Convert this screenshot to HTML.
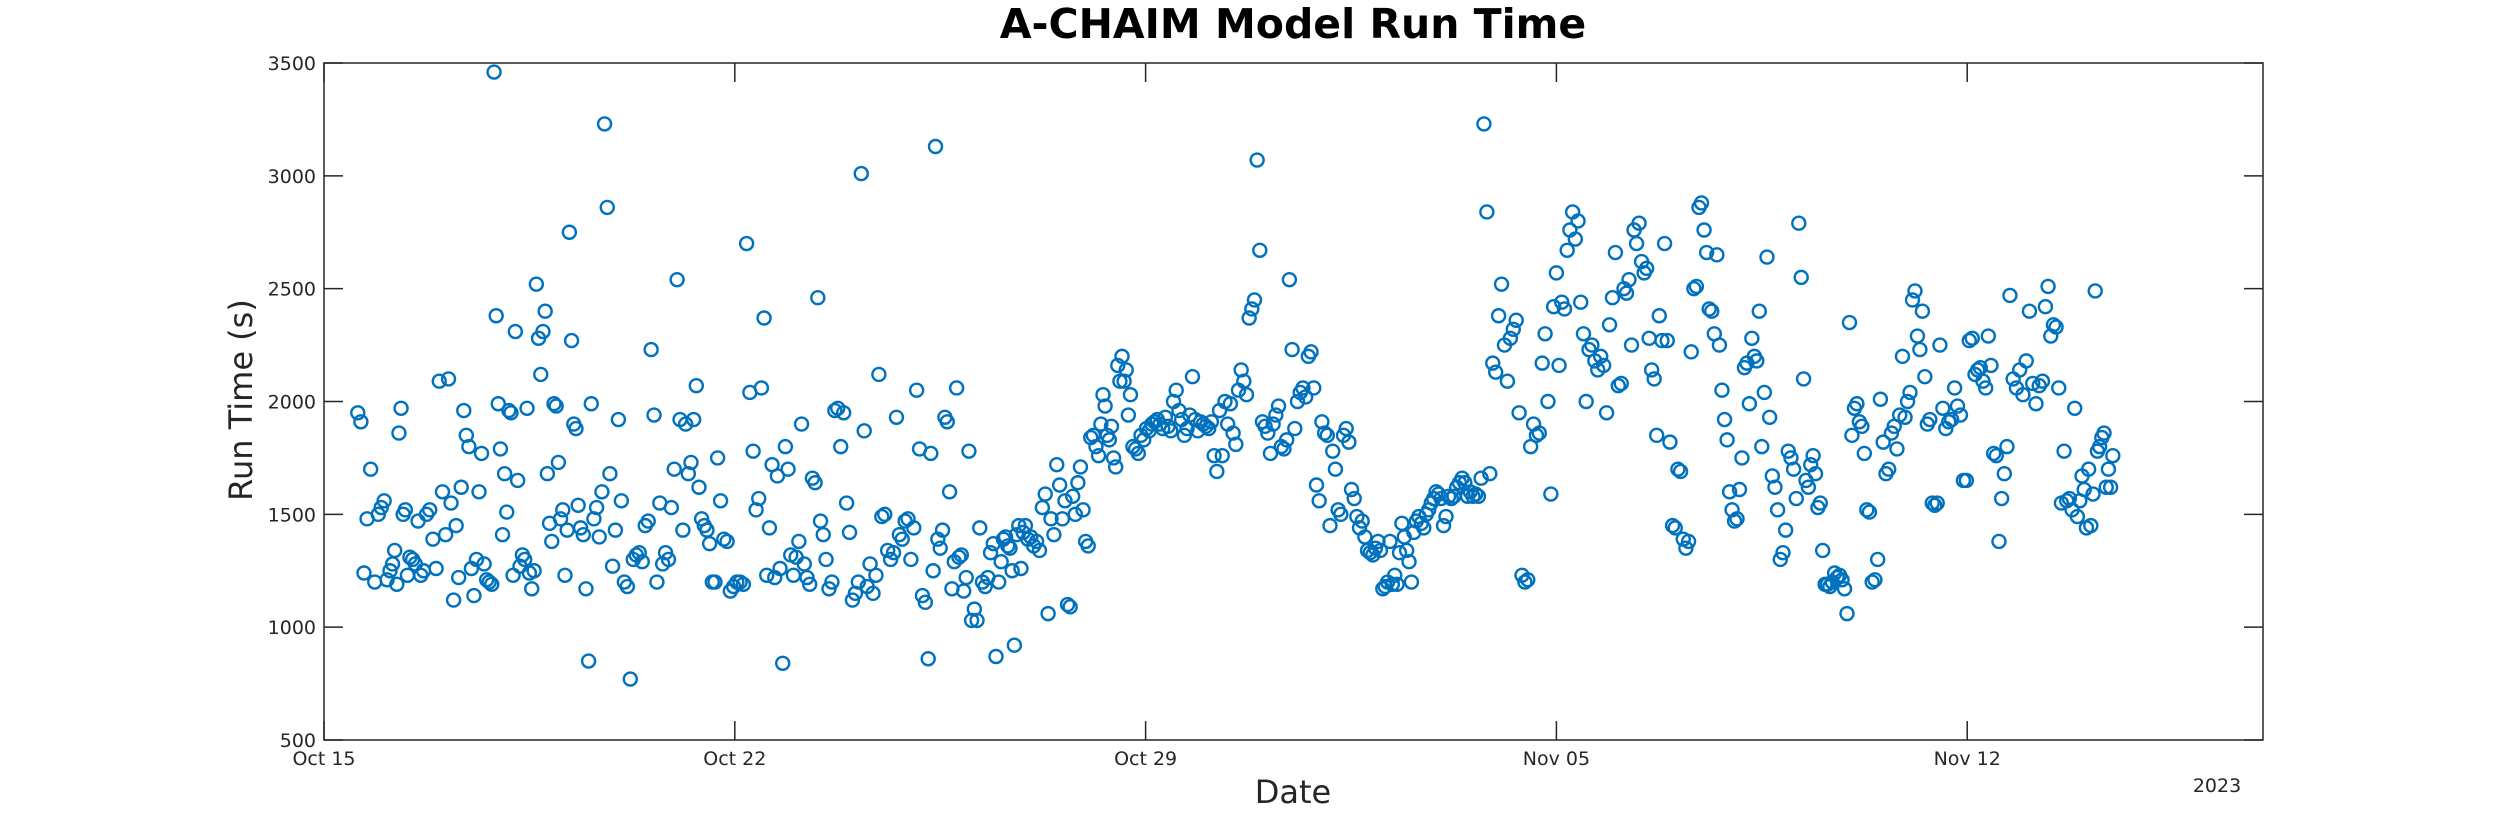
<!DOCTYPE html>
<html><head><meta charset="utf-8"><style>
html,body{margin:0;padding:0;background:#fff;}
svg{display:block;font-family:"DejaVu Sans","Liberation Sans",sans-serif;}
</style></head><body>
<svg id="chart" width="2500" height="833" viewBox="0 0 2500 833" xmlns="http://www.w3.org/2000/svg">
<rect width="2500" height="833" fill="#fff"/>
<text x="1293" y="38" text-anchor="middle" font-size="41" font-weight="bold" fill="#000">A-CHAIM Model Run Time</text>
<g id="marks"></g>
<g id="axes"></g>
<text x="1293" y="803" text-anchor="middle" font-size="32" fill="#262626">Date</text>
<text transform="translate(252,400) rotate(-90)" text-anchor="middle" font-size="32" fill="#262626">Run Time (s)</text>
<text x="2217" y="792" text-anchor="middle" font-size="19" fill="#262626">2023</text>
</svg>
<script>
const groupDays=[0.55,0.76,0.90,1.15,1.44,1.72,2.10,2.49,2.88,3.24,3.60,3.90,4.35,4.94,5.55,6.14,6.73,7.34,7.93,8.53,9.13,9.73,10.32,10.92,11.52,11.97,12.56,13.22,13.76,14.36,14.96,15.56,16.15,16.75,17.35,17.94,18.55,19.14,19.74,20.34,20.93,21.53,22.13,22.73,23.32,23.93,24.52,25.11,25.72,26.31,26.92,27.51,28.11,28.70,29.31,29.90];
const groupValues=[
[1950,1910,1240,1480],[1700,1200],[1500,1530,1560,1210,1250],
[1280,1340,1190,1860,1970,1500,1520,1230],[1310,1300,1280,1470,1230,1250],
[1500,1520,1390,1260,2090,1600,1410],[2100,1550,1120,1450,1220,1620,1960,1850,1800],
[1260,1140,1300,1600,1770,1280,1210,1200,1190],[3460,2380,1990,1790,1410,1680,1510,1960,1950,1230],
[2310,1650,1270,1320,1300,1970,1240,1170,1250],[2520,2280,2120,2310,2400,1680,1460,1380],
[1990,1980,1730,1480,1520,1230,1430,2750,2270,1900,1880,1540],
[1440,1410,1170,850,1990,1480,1530,1400,1600,3230,2860,1680,1270],
[1430,1920,1560,1200,1180,770,1300,1320,1330,1290,1450,1470],
[2230,1940,1200,1550,1280,1330,1300,1530,1700,2540,1920,1430],
[1900,1680,1730,1920,2070,1620,1480,1450,1430,1370,1200,1200,1750],
[1560,1390,1380,1160,1180,1200,1200,1190,2700,2040,1780],
[1520,1570,2060,2370,1230,1440,1720,1220,1670,1260,840,1800,1700],
[1320,1230,1310,1380,1900,1280,1220,1190,1660,1640,2460,1470,1410],
[1300,1170,1200,1960,1970,1800,1950,1550,1420,1120,1150,1200],
[3010,1870,1180,1280,1150,1230,2120,1490,1500,1340,1300,1330],
[1930,1410,1390,1470,1480,1300,1440,2050,1790,1140,1110,860],
[1770,1250,3130,1390,1350,1430,1930,1910,1600,1170,1290,2060,1310,1320,1160],
[1220,1780,1030,1080,1030,1440,1200,1180,1220,1330,1370,870,1200],
[1290,1390,1400,1360,1350,1250,920,1410,1450,1260,1420,1450],
[1390,1400,1360,1380,1340,1530,1590,1060,1480,1410,1720,1630],
[1480,1560,1100,1090,1580,1500,1640,1710,1520,1380,1360,1840,1850,1800,1760],
[1900,2030,1980,1850,1830,1890,1750,1710,2160,2090,2200,2090,2140,1940,2030],
[1800,1790,1770,1850,1830,1880,1870,1900,1910,1920,1900,1880,1930],
[1890,1870,2000,2050,1960,1920,1850,1880,1940,2110,1920,1870,1910],
[1900,1890,1880,1910,1760,1690,1960,1760,2000,1900,1990,1860,1810],
[2050,2140,2090,2030,2370,2410,2450,3070,2670,1910,1890,1860,1770],
[1900,1940,1980,1800,1790,1830,2540,2230,1880,2000,2040,2060,2020],
[2200,2220,2060,1630,1560,1910,1860,1850,1450,1780,1700,1520,1500],
[1850,1880,1820,1610,1570,1490,1440,1470,1400,1340,1330,1320,1350],
[1380,1340,1170,1180,1200,1380,1190,1230,1190,1330,1460,1400,1340,1290,1200],
[1420,1470,1490,1460,1440,1500,1520,1550,1570,1600,1590,1570,1450,1490],
[1580,1570,1580,1620,1640,1660,1640,1580,1600,1580,1590,1580,1660],
[3230,2840,1680,2170,2130,2380,2520,2250,2090,2280,2320,2360],
[1950,1230,1200,1210,1800,1900,1850,1860,2170,2300,2000,1590],
[2420,2570,2160,2440,2410,2670,2760,2840,2720,2800,2440,2300,2000],
[2230,2250,2180,2140,2200,2160,1950,2340,2460,2660,2070,2080],
[2500,2480,2540,2250,2760,2700,2790,2620,2570,2590,2280,2140,2100,1850],
[2380,2270,2700,2270,1820,1450,1440,1700,1690,1390,1350,1380,2220],
[2500,2510,2860,2880,2760,2660,2410,2400,2300,2650,2250,2050,1920,1830],
[1600,1520,1470,1480,1610,1750,2150,2170,1990,2280,2200,2180,2400,1800],
[2040,2640,1930,1670,1620,1520,1300,1330,1430,1780,1750,1700,1570],
[2790,2550,2100,1650,1620,1720,1760,1680,1530,1550,1340,1190,1190,1180,1200],
[1240,1220,1230,1210,1170,1060,2350,1850,1970,1990,1910,1890,1770,1520],
[1510,1200,1210,1300,2010,1820,1680,1700,1860,1890,1790,1940,2200],
[1930,2000,2040,2450,2490,2290,2230,2400,2110,1900,1920,1550,1540,1550],
[2250,1970,1880,1910,1920,2060,1980,1940,1650,1650,2270,2280],
[2120,2140,2150,2090,2060,2290,2160,1770,1760,1380,1570,1680,1800],
[2470,2100,2060,2140,2030,2180,2400,2080,1990,2070,2090],
[2420,2510,2290,2340,2330,2060,1550,1780,1560,1570,1520,1970,1490],
[1560,1670,1610,1440,1700,1450,1590,2490,1780,1800,1840,1860,1620,1700,1620,1760]
];
const yTicks=[500,1000,1500,2000,2500,3000,3500];
const xTickDays=[0,7,14,21,28];
const xTickLabels=["Oct 15","Oct 22","Oct 29","Nov 05","Nov 12"];

const L=324,R=2263,T=63,B=740,DAYS=33.04,YMIN=500,YMAX=3500;
const xs=d=>L+(d/DAYS)*(R-L);
const ys=v=>B-(v-YMIN)/(YMAX-YMIN)*(B-T);
const NS="http://www.w3.org/2000/svg";
function mk(tag,attrs,parent){const e=document.createElementNS(NS,tag);for(const k in attrs)e.setAttribute(k,attrs[k]);parent.appendChild(e);return e;}
const marks=document.getElementById('marks');
groupDays.forEach((d,gi)=>{
  const next=gi+1<groupDays.length?groupDays[gi+1]:d+0.6;
  const span=next-d;const vals=groupValues[gi];
  vals.forEach((v,i)=>{
    const dd=d+span*(i+0.5)/vals.length;
    const c=mk('circle',{cx:xs(dd),cy:ys(v),r:6.5,fill:'none',stroke:'#0072BD','stroke-width':2.4},marks);
    
    
  });
});
const ax=document.getElementById('axes');
const box=mk('rect',{x:L,y:T,width:R-L,height:B-T,fill:'none',stroke:'#262626','stroke-width':1.5},ax);


yTicks.forEach(v=>{
  const y=ys(v);
  mk('line',{x1:L,x2:L+19,y1:y,y2:y,stroke:'#262626','stroke-width':1.5},ax);
  mk('line',{x1:R,x2:R-19,y1:y,y2:y,stroke:'#262626','stroke-width':1.5},ax);
  const t=mk('text',{x:L-8,y:y+7,'text-anchor':'end','font-size':19,fill:'#262626'},ax);
  t.textContent=v;
  
  
});
xTickDays.forEach((d,i)=>{
  const x=xs(d);
  mk('line',{x1:x,x2:x,y1:B,y2:B-19,stroke:'#262626','stroke-width':1.5},ax);
  mk('line',{x1:x,x2:x,y1:T,y2:T+19,stroke:'#262626','stroke-width':1.5},ax);
  const t=mk('text',{x:x,y:B+25,'text-anchor':'middle','font-size':19,fill:'#262626'},ax);
  t.textContent=xTickLabels[i];
  
  
});
</script>
</body></html>
